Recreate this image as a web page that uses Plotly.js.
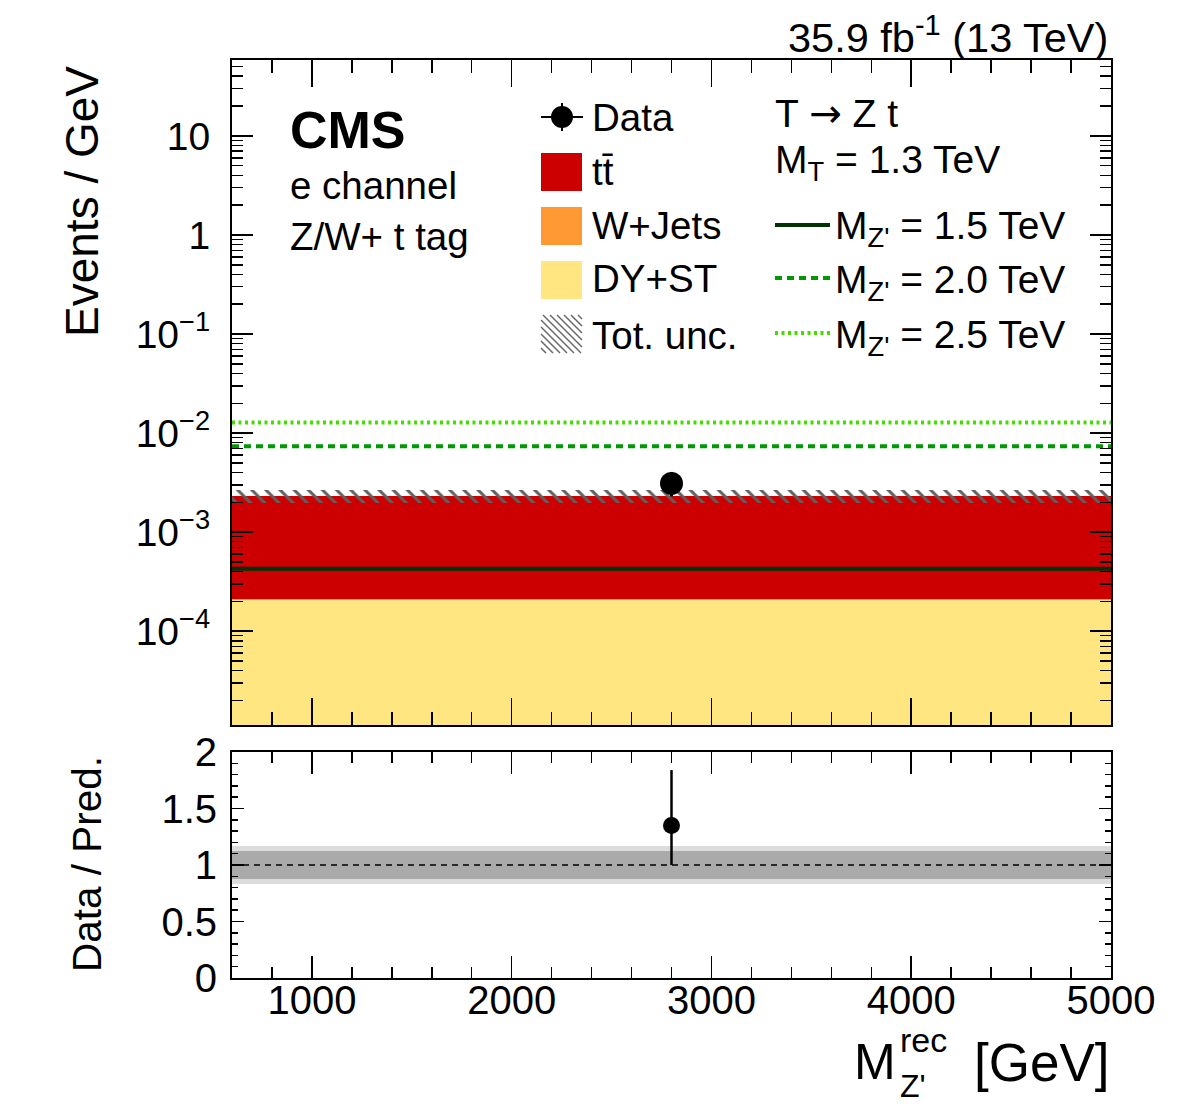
<!DOCTYPE html>
<html><head><meta charset="utf-8">
<script src="https://cdn.plot.ly/plotly-3.0.1.min.js"></script>
<style>html,body{margin:0;padding:0;background:#fff}</style>
</head><body>
<div id="chart" style="width:1182px;height:1111px"></div>
<script>
// ---- data ----
const binEdges   = [600, 5000];
const binCenter  = [2800];
const binWidth   = [4400];
const dyst       = [2.08e-4];
const wjets      = [1.5e-6];
const ttbar      = [2.11e-3];
const totUncUp   = [2.65e-3];
const totUncDown = [1.97e-3];
const dataY       = [3.1e-3];
const dataErrUp   = [0.95e-3];
const dataErrDown = [0.8e-3];
const sig15 = [4.28e-4];
const sig20 = [7.35e-3];
const sig25 = [1.28e-2];
const ratioY       = [1.35];
const ratioErrUp   = [0.49];
const ratioErrDown = [0.35];
const ratioStatUnc = [0.12];
const ratioTotUnc  = [0.17];
const yTickVals = [1e-4, 1e-3, 1e-2, 1e-1, 1, 10];
const yTickText = ['10<sup>\u22124</sup>','10<sup>\u22123</sup>','10<sup>\u22122</sup>','10<sup>\u22121</sup>','1','10'];
const rTickVals = [0, 0.5, 1, 1.5, 2];
const rTickText = ['0', '0.5', '1', '1.5', '2'];

// ---- derived ----
const cumDY = dyst.slice();
const cumWJ = dyst.map((v,i)=>v+wjets[i]);
const cumTT = cumWJ.map((v,i)=>v+ttbar[i]);
const step = a => a.concat([a[a.length-1]]);
const minorLog = [];
for (let e=-5; e<=1; e++) for (let m=2; m<=9; m++) minorLog.push(m*Math.pow(10,e));

const FONT = 'Liberation Sans, Arial, Helvetica, sans-serif';
const L=232, R=1111, T=60, B=978, W=1182, H=1111;
const PX = x => (x-L)/(R-L);
const PY = y => (B-y)/(B-T);

const traces = [
  {type:'bar', x:binCenter, y:cumTT, width:binWidth, marker:{color:'#cc0000', line:{width:0}}, xaxis:'x', yaxis:'y', hoverinfo:'skip'},
  {type:'bar', x:binCenter, y:cumWJ, width:binWidth, marker:{color:'#ff9933', line:{width:0}}, xaxis:'x', yaxis:'y', hoverinfo:'skip'},
  {type:'bar', x:binCenter, y:cumDY, width:binWidth, marker:{color:'#ffe680', line:{width:0}}, xaxis:'x', yaxis:'y', hoverinfo:'skip'},
  {type:'bar', x:binCenter, base:totUncDown, y:totUncUp.map((v,i)=>v-totUncDown[i]), width:binWidth,
   marker:{color:'#606060', line:{width:0}, pattern:{shape:'\\', size:10, solidity:0.3, fillmode:'replace'}}, xaxis:'x', yaxis:'y', hoverinfo:'skip'},
  {type:'scatter', mode:'lines', x:binEdges, y:step(sig15), line:{color:'#003300', width:4, shape:'hv'}, xaxis:'x', yaxis:'y'},
  {type:'scatter', mode:'lines', x:binEdges, y:step(sig20), line:{color:'#009900', width:4, shape:'hv', dash:'7px,5px'}, xaxis:'x', yaxis:'y'},
  {type:'scatter', mode:'lines', x:binEdges, y:step(sig25), line:{color:'#44dd00', width:4, shape:'hv', dash:'3px,3.5px'}, xaxis:'x', yaxis:'y'},
  {type:'scatter', mode:'markers', x:binCenter, y:dataY, marker:{color:'black', size:23},
   error_y:{type:'data', symmetric:false, array:dataErrUp, arrayminus:dataErrDown, color:'black', thickness:3, width:0}, xaxis:'x', yaxis:'y'},
  // ratio
  {type:'bar', x:binCenter, base:ratioTotUnc.map(u=>1-u), y:ratioTotUnc.map(u=>2*u), width:binWidth, marker:{color:'#dcdcdc', line:{width:0}}, xaxis:'x2', yaxis:'y2'},
  {type:'bar', x:binCenter, base:ratioStatUnc.map(u=>1-u), y:ratioStatUnc.map(u=>2*u), width:binWidth, marker:{color:'#aaaaaa', line:{width:0}}, xaxis:'x2', yaxis:'y2'},
  {type:'scatter', mode:'lines', x:binEdges, y:binEdges.map(()=>1), line:{color:'black', width:1.5, dash:'6px,5px'}, xaxis:'x2', yaxis:'y2'},
  {type:'scatter', mode:'markers', x:binCenter, y:ratioY, marker:{color:'black', size:17},
   error_y:{type:'data', symmetric:false, array:ratioErrUp, arrayminus:ratioErrDown, color:'black', thickness:2.5, width:0}, xaxis:'x2', yaxis:'y2'}
];

const axCommon = {showline:true, linecolor:'black', linewidth:2, mirror:'allticks', ticks:'inside', tickcolor:'black',
  tickwidth:1.5, showgrid:false, zeroline:false, tickfont:{family:FONT, size:40, color:'black'}};

const topDomLow = PY(725), botDomHigh = PY(752);

const shapes = [];
const ann = [];
function txt(text, x, y, size, opts){ ann.push(Object.assign({text:text, x:PX(x), y:PY(y), xref:'paper', yref:'paper', showarrow:false,
  xanchor:'left', yanchor:'middle', font:{family:FONT, size:size, color:'black'}}, opts||{})); }

// legend left column
shapes.push({type:'line', xref:'paper', yref:'paper', x0:PX(541), x1:PX(583), y0:PY(117), y1:PY(117), line:{color:'black', width:2}});
shapes.push({type:'line', xref:'paper', yref:'paper', x0:PX(562), x1:PX(562), y0:PY(103), y1:PY(131), line:{color:'black', width:2}});
shapes.push({type:'circle', xref:'paper', yref:'paper', x0:PX(551), x1:PX(573), y0:PY(106), y1:PY(128), fillcolor:'black', line:{width:0}});
const swatches = [['#cc0000',153],['#ff9933',207],['#ffe680',261]];
swatches.forEach(s=>shapes.push({type:'rect', xref:'paper', yref:'paper', x0:PX(541), x1:PX(582), y0:PY(s[1]), y1:PY(s[1]+38), fillcolor:s[0], line:{width:0}}));
// hatched swatch
(function(){ const x0=541,x1=582,y0=315,y1=353;
  for (let c=y0-x1+4; c<y1-x0; c+=7) {
    let xa=Math.max(x0, y0-c), xb=Math.min(x1, y1-c);
    if (xb<=xa) continue;
    shapes.push({type:'line', xref:'paper', yref:'paper', x0:PX(xa), y0:PY(xa+c), x1:PX(xb), y1:PY(xb+c), line:{color:'#666666', width:1.5}});
  }})();
txt('Data', 590, 117, 38.5);
txt('tt\u0304', 590, 172, 38.5);
txt('W+Jets', 590, 225, 38.5);
txt('DY+ST', 590, 278, 38.5);
txt('Tot. unc.', 590, 335, 38.5);
// right column
txt('T <span style="font-family:DejaVu Sans">\u2192</span> Z t', 773, 113, 39);
txt('M<sub>T</sub> = 1.3 TeV', 773, 162, 39);
shapes.push({type:'line', xref:'paper', yref:'paper', x0:PX(775), x1:PX(830), y0:PY(225), y1:PY(225), line:{color:'#003300', width:4}});
shapes.push({type:'line', xref:'paper', yref:'paper', x0:PX(775), x1:PX(830), y0:PY(278), y1:PY(278), line:{color:'#009900', width:4, dash:'7px,5px'}});
shapes.push({type:'line', xref:'paper', yref:'paper', x0:PX(775), x1:PX(830), y0:PY(333), y1:PY(333), line:{color:'#44dd00', width:4, dash:'3px,3.5px'}});
txt("M<sub>Z'</sub> = 1.5 TeV", 833, 229, 39);
txt("M<sub>Z'</sub> = 2.0 TeV", 833, 282, 39);
txt("M<sub>Z'</sub> = 2.5 TeV", 833, 337, 39);
// CMS labels
txt('<b>CMS</b>', 288, 130, 52);
txt('e channel', 288, 186, 38.5);
txt('Z/W+ t tag', 288, 237, 38.5);
// lumi
txt('35.9 fb<sup>-1</sup> (13 TeV)', 1110, 35, 41.5, {xanchor:'right'});
// axis titles
txt('Events / GeV', 82, 202, 46, {xanchor:'center', textangle:-90});
txt('Data / Pred.', 87, 864, 40.5, {xanchor:'center', textangle:-90});
txt('M', 852, 1062, 50);
txt('rec', 898, 1040, 34);
txt("Z'", 898, 1086, 32);
txt('[GeV]', 1112, 1062, 53, {xanchor:'right'});

const layout = {
  width:W, height:H, paper_bgcolor:'white', plot_bgcolor:'white', showlegend:false,
  margin:{l:L, r:W-R, t:T, b:H-B, pad:0},
  barmode:'overlay', bargap:0,
  xaxis: Object.assign({}, axCommon, {domain:[0,1], anchor:'y', range:[600,5000], tick0:0, dtick:1000, ticklen:27, showticklabels:false,
     minor:{dtick:200, tick0:0, ticks:'inside', ticklen:13, tickwidth:1.5, tickcolor:'black', showgrid:false}}),
  yaxis: Object.assign({}, axCommon, {domain:[topDomLow,1], anchor:'x', type:'log', range:[-4.947,1.766], tickmode:'array', tickvals:yTickVals, ticktext:yTickText,
     ticklen:21, ticklabelstandoff:12, tickfont:{family:FONT, size:39, color:'black'},
     minor:{tickmode:'array', tickvals:minorLog, ticks:'inside', ticklen:11, tickwidth:1.5, tickcolor:'black', showgrid:false}}),
  xaxis2: Object.assign({}, axCommon, {domain:[0,1], anchor:'y2', range:[600,5000], tick0:0, dtick:1000, ticklen:22, ticklabelstandoff:-14,
     minor:{dtick:200, tick0:0, ticks:'inside', ticklen:11, tickwidth:1.5, tickcolor:'black', showgrid:false}}),
  yaxis2: Object.assign({}, axCommon, {domain:[0,botDomHigh], anchor:'x2', range:[0,2], tickmode:'array', tickvals:rTickVals, ticktext:rTickText,
     ticklen:12, ticklabelstandoff:5, tickfont:{family:FONT, size:40, color:'black'},
     minor:{dtick:0.1, tick0:0, ticks:'inside', ticklen:6, tickwidth:1.5, tickcolor:'black', showgrid:false}}),
  shapes:shapes, annotations:ann
};
Plotly.newPlot('chart', traces, layout, {staticPlot:true, displayModeBar:false});
</script>
</body></html>
